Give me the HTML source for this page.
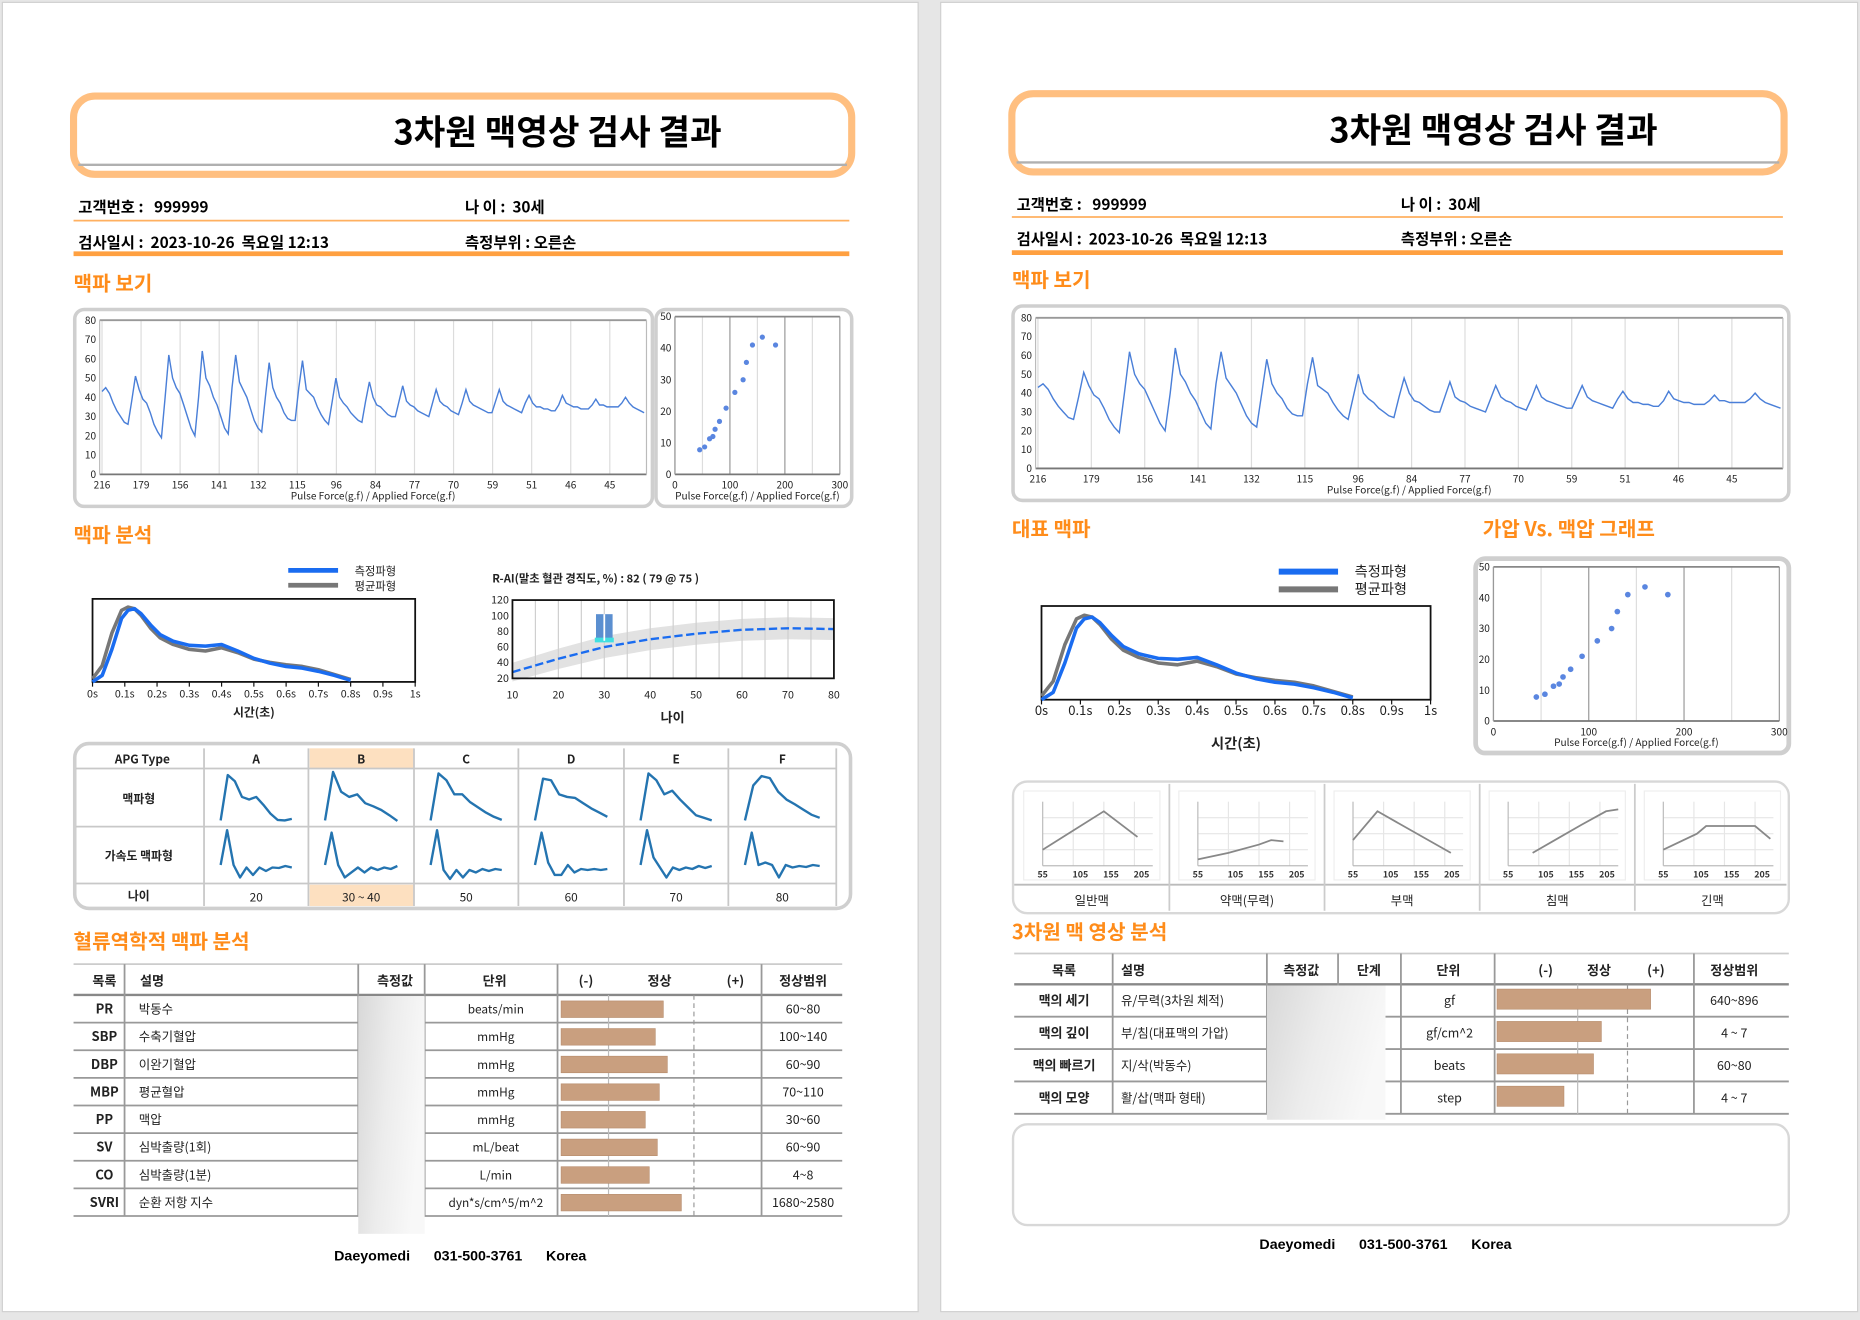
<!DOCTYPE html>
<html><head><meta charset="utf-8">
<style>
html,body{margin:0;padding:0;background:#e6e6e6;}
body{width:1860px;height:1314px;overflow:hidden;}
#wrap{position:absolute;left:0;top:0;width:1568px;height:1108px;transform:scale(1.18622,1.18592);transform-origin:0 0;}
svg text{font-family:"Liberation Sans","Noto Sans CJK KR",sans-serif;}
.k{font-family:"Noto Sans CJK KR","Liberation Sans",sans-serif !important;}
</style></head>
<body>
<div id="wrap">
<svg id="s" width="1568" height="1108" viewBox="0 0 1568 1108" xmlns="http://www.w3.org/2000/svg">
<rect x="2" y="2" width="772" height="1104" fill="#fff" stroke="#d0d0d0"/>
<rect x="793" y="2" width="773" height="1104" fill="#fff" stroke="#d0d0d0"/>

<g>
<rect x="62" y="81" width="656" height="66" rx="18" fill="#fff" stroke="#ffbf80" stroke-width="6"/>
<line x1="66" y1="139" x2="714" y2="139" stroke="#b0b0b0" stroke-width="2"/>
<text x="470" y="122" text-anchor="middle" font-size="29" font-weight="bold" class="k">3차원 맥영상 검사 결과</text>
</g>
<g class="k" font-size="13" font-weight="bold">
<text x="66" y="179" class="k">고객번호 :&#160;&#160; 999999</text>
<text x="392" y="179" class="k">나 이 :&#160; 30세</text>
<line x1="62" y1="186" x2="716" y2="186" stroke="#ffb060" stroke-width="1.5"/>
<text x="66" y="209" class="k">검사일시 :&#160; 2023-10-26&#160; 목요일 12:13</text>
<text x="392" y="209" class="k">측정부위 : 오른손</text>
<line x1="62" y1="214" x2="716" y2="214" stroke="#ffa040" stroke-width="4"/>
</g>
<text x="62" y="245" font-size="17" font-weight="bold" fill="#ff8c1a" class="k">맥파 보기</text>
<rect x="63" y="261" width="487" height="166" rx="8" fill="#fff" stroke="#cfcfcf" stroke-width="3"/>
<rect x="553" y="261" width="165" height="166" rx="8" fill="#fff" stroke="#cfcfcf" stroke-width="3"/>
<g id="L_stream"></g>
<g id="L_scatter"></g>

<text x="62" y="457" font-size="17" font-weight="bold" fill="#ff8c1a" class="k">맥파 분석</text>
<g id="L_wave"></g>
<g id="L_rai"></g>

<g id="apg">
<rect x="63" y="627" width="654" height="139" rx="12" fill="#fff" stroke="#cfcfcf" stroke-width="3"/>
<rect x="261" y="631" width="88" height="17" fill="#fde0c0"/>
<rect x="261" y="746" width="88" height="18" fill="#fde0c0"/>
</g>

<text x="62" y="800" font-size="17" font-weight="bold" fill="#ff8c1a" class="k">혈류역학적 맥파 분석</text>
<g id="L_table"></g>
<text x="388" y="1063" text-anchor="middle" font-size="12" font-weight="bold" xml:space="preserve">Daeyomedi      031-500-3761      Korea</text>

<g>
<rect x="853" y="79" width="651" height="66" rx="18" fill="#fff" stroke="#ffbf80" stroke-width="6"/>
<line x1="857" y1="137" x2="1500" y2="137" stroke="#b0b0b0" stroke-width="2"/>
<text x="1259" y="120" text-anchor="middle" font-size="29" font-weight="bold" class="k">3차원 맥영상 검사 결과</text>
</g>
<g font-size="13" font-weight="bold">
<text x="857" y="177" class="k">고객번호 :&#160;&#160; 999999</text>
<text x="1181" y="177" class="k">나 이 :&#160; 30세</text>
<line x1="853" y1="183" x2="1503" y2="183" stroke="#ffb060" stroke-width="1.5"/>
<text x="857" y="206" class="k">검사일시 :&#160; 2023-10-26&#160; 목요일 12:13</text>
<text x="1181" y="206" class="k">측정부위 : 오른손</text>
<line x1="853" y1="213" x2="1503" y2="213" stroke="#ffa040" stroke-width="4"/>
</g>
<text x="853" y="242" font-size="17" font-weight="bold" fill="#ff8c1a" class="k">맥파 보기</text>
<rect x="854" y="258" width="654" height="164" rx="8" fill="#fff" stroke="#cfcfcf" stroke-width="3"/>
<g id="R_stream"></g>

<text x="853" y="452" font-size="17" font-weight="bold" fill="#ff8c1a" class="k">대표 맥파</text>
<text x="1250" y="452" font-size="17" font-weight="bold" fill="#ff8c1a" class="k">가압 Vs. 맥압 그래프</text>
<g id="R_wave"></g>
<rect x="1244" y="471" width="264" height="164" rx="8" fill="#fff" stroke="#cfcfcf" stroke-width="4"/>
<g id="R_scatter"></g>

<g id="ptype">
<rect x="854" y="659" width="654" height="111" rx="12" fill="#fff" stroke="#d8d8d8" stroke-width="2"/>
<line x1="855" y1="746" x2="1506" y2="746" stroke="#bbb" stroke-width="1.5"/>
</g>

<text x="853" y="792" font-size="17" font-weight="bold" fill="#ff8c1a" class="k">3차원 맥 영상 분석</text>
<g id="R_table"></g>
<rect x="854" y="948" width="654" height="85" rx="12" fill="#fff" stroke="#d8d8d8" stroke-width="2"/>
<text x="1168" y="1053" text-anchor="middle" font-size="12" font-weight="bold" xml:space="preserve">Daeyomedi      031-500-3761      Korea</text>
</svg>
</div>
<script>
const pulseValues=[43,45,42,37,33,30,27,26,38,51,44,39,37,32,26,22,19,40,62,50,45,42,36,30,24,20,40,64,50,46,40,36,30,24,21,45,62,48,44,40,34,28,24,22,40,58,45,40,37,32,29,28,28,45,59,44,42,40,35,31,28,26,38,50,40,37,35,32,30,28,27,38,48,40,36,35,33,31,30,30,38,46,38,36,35,33,32,31,30,37,44,38,36,35,33,32,31,37,44,38,36,35,34,33,32,32,38,44,38,36,35,34,33,32,37,41,37,35,35,34,34,33,33,36,41,37,36,35,35,34,34,34,36,39,36,36,35,35,35,35,37,40,37,35,34,33,32];
const pulseXLabels=['216','179','156','141','132','115','96','84','77','70','59','51','46','45'];
const pulseYTicks=[0,10,20,30,40,50,60,70,80];
const scatterX=[45,54,63,69,73,81,93,109,124,130,141,159,183];
const scatterY=[7.8,8.7,11.3,12,14.3,16.8,21,26,30,35.5,41,43.5,41];
const scatterXTicks=[0,100,200,300];
const scatterYTicks=[0,10,20,30,40,50];
const waveT=[0,0.03,0.06,0.09,0.11,0.13,0.15,0.18,0.21,0.25,0.3,0.35,0.4,0.45,0.5,0.55,0.6,0.65,0.7,0.75,0.8];
const waveMeasured=[0,0.08,0.4,0.78,0.88,0.9,0.84,0.7,0.58,0.5,0.45,0.44,0.46,0.38,0.29,0.23,0.19,0.17,0.13,0.08,0.02];
const waveAverage=[0.04,0.2,0.6,0.88,0.92,0.9,0.82,0.66,0.54,0.46,0.4,0.38,0.42,0.36,0.28,0.24,0.21,0.19,0.15,0.09,0.03];
const waveXTicks=['0s','0.1s','0.2s','0.3s','0.4s','0.5s','0.6s','0.7s','0.8s','0.9s','1s'];
const raiAges=[10,20,30,40,50,60,70,80];
const raiMean=[28,45,60,70,77,82,84,83];
const raiBand=[12,13,14,14,14,14,14,14];
const raiYTicks=[20,40,60,80,100,120];
const raiPatientAge=30, raiPatientValue=82;
const apgTypes=['A','B','C','D','E','F'];
const apgAges=['20','30 ~ 40','50','60','70','80'];
const apgPulse=[[0.05,0.92,0.8,0.5,0.45,0.5,0.35,0.18,0.06,0.05,0.08],[0.05,0.98,0.6,0.5,0.55,0.38,0.32,0.25,0.15,0.04],[0.05,0.95,0.82,0.55,0.55,0.4,0.3,0.2,0.12,0.06],[0.05,0.85,0.82,0.55,0.5,0.48,0.38,0.28,0.2,0.12],[0.05,0.95,0.82,0.55,0.62,0.45,0.3,0.15,0.1,0.05],[0.05,0.72,0.9,0.86,0.6,0.45,0.36,0.26,0.16,0.1]];
const apgAccel=[[0.3,1,0.3,0.05,0.25,0.1,0.25,0.18,0.25,0.24,0.28,0.25],[0.3,0.95,0.3,0.05,0.15,0.25,0.15,0.25,0.2,0.25,0.22,0.28],[0.3,1,0.2,0.02,0.2,0.05,0.2,0.15,0.22,0.18,0.22,0.2],[0.3,0.95,0.35,0.1,0.1,0.3,0.15,0.22,0.2,0.22,0.2,0.22],[0.3,1,0.45,0.25,0.05,0.25,0.2,0.25,0.22,0.28,0.24,0.28],[0.3,0.95,0.3,0.35,0.3,0.05,0.3,0.25,0.28,0.26,0.3,0.28]];
const tableCodes=['PR','SBP','DBP','MBP','PP','SV','CO','SVRI'];
const tableDesc=['박동수','수축기혈압','이완기혈압','평균혈압','맥압','심박출량(1회)','심박출량(1분)','순환 저항 지수'];
const tableUnits=['beats/min','mmHg','mmHg','mmHg','mmHg','mL/beat','L/min','dyn*s/cm^5/m^2'];
const tableRanges=['60~80','100~140','60~90','70~110','30~60','60~90','4~8','1680~2580'];
const tableBars=[51,47,53,49,42,48,44,60];
const typeNames=['일반맥','약맥(무력)','부맥','침맥','긴맥'];
const typeX=[[0,1,2,3.1],[0,1,2,2.4,2.8],[0,0.8,3.2],[0.8,1.6,2.4,3.2,3.6],[0,1.1,1.4,2.2,3.0,3.5]];
const typeY=[[0.25,0.55,0.85,0.45],[0.1,0.2,0.33,0.4,0.38],[0.4,0.85,0.2],[0.2,0.42,0.64,0.85,0.88],[0.25,0.5,0.62,0.62,0.62,0.42]];
const typeXTicks=['55','105','155','205'];
const dimNames=['맥의 세기','맥의 깊이','맥의 빠르기','맥의 모양'];
const dimDesc=['유/무력(3차원 체적)','부/침(대표맥의 가압)','지/삭(박동수)','활/삽(맥파 형태)'];
const dimUnits=['gf','gf/cm^2','beats','step'];
const dimRanges=['640~896','4 ~ 7','60~80','4 ~ 7'];
const dimBars=[78,53,49,34];

const NS='http://www.w3.org/2000/svg';
function el(tag,parent){const e=document.createElementNS(NS,tag);parent.appendChild(e);return e;}
function txt(parent,x,y,s,size,anchor,weight,fill){const t=el('text',parent);t.setAttribute('x',x);t.setAttribute('y',y);t.setAttribute('font-size',size);t.setAttribute('text-anchor',anchor||'start');if(weight)t.setAttribute('font-weight',weight);t.setAttribute('fill',fill||'#222');t.setAttribute('class','k');t.textContent=s;return t;}
function line(parent,x1,y1,x2,y2,stroke,w,dash){const l=el('line',parent);l.setAttribute('x1',x1);l.setAttribute('y1',y1);l.setAttribute('x2',x2);l.setAttribute('y2',y2);l.setAttribute('stroke',stroke);l.setAttribute('stroke-width',w||1);if(dash)l.setAttribute('stroke-dasharray',dash);return l;}

function drawStream(g,x0,x1,y0,y1,fs){
  const sx=i=>x0+2+i*(x1-x0-4)/(pulseValues.length-1);
  const sy=v=>y0-(v/80)*(y0-y1);
  const step=(x1-x0)/pulseXLabels.length;
  pulseXLabels.forEach((lb,i)=>{const x=x0+2+i*step;
    const gl=line(g,x,y1,x,y0,'#dcdcdc',1);
    
    
    const t=txt(g,x,y0+12,lb,fs,'middle');
    
    });
  pulseYTicks.forEach(v=>{const t=txt(g,x0-3,sy(v)+3,String(v),fs,'end');
    
    });
  line(g,x0,y1,x1,y1,'#999',1.5);line(g,x0,y0,x1,y0,'#777',1.5);line(g,x1,y1,x1,y0,'#bbb',1);line(g,x0,y1,x0,y0,'#bbb',1);
  const p=el('polyline',g);
  
  
  p.setAttribute('points',pulseValues.map((v,i)=>sx(i).toFixed(1)+','+sy(v).toFixed(1)).join(' '));
  p.setAttribute('fill','none');p.setAttribute('stroke','#4a7fd8');p.setAttribute('stroke-width','1.2');
  const at=txt(g,(x0+x1)/2,y0+21,'Pulse Force(g.f) / Applied Force(g.f)',fs,'middle');
  
  
}
drawStream(document.getElementById('L_stream'),84,545,400,270,8.5);
drawStream(document.getElementById('R_stream'),873,1503,395,268,8.5);

function drawScatter(g,x0,x1,y0,y1,fs,r){
  const sx=v=>x0+v/300*(x1-x0), sy=v=>y0-v/50*(y0-y1);
  scatterXTicks.forEach(v=>{const x=sx(v);line(g,x,y1,x,y0,v%100===0?'#999':'#ddd',1);
    const t=txt(g,x,y0+12,String(v),fs,'middle');
    
    });
  [50,150,250].forEach(v=>line(g,sx(v),y1,sx(v),y0,'#ddd',1));
  scatterYTicks.forEach(v=>{const t=txt(g,x0-3,sy(v)+3,String(v),fs,'end');
    
    });
  line(g,x0,y1,x1,y1,'#888',1.5);line(g,x0,y0,x1,y0,'#777',1.5);line(g,x0,y1,x0,y0,'#999',1);
  scatterX.forEach((v,i)=>{const c=el('circle',g);
    
    
    c.setAttribute('cx',sx(v));c.setAttribute('cy',sy(scatterY[i]));c.setAttribute('r',r);c.setAttribute('fill','#5a86e0');});
  const t=txt(g,(x0+x1)/2,y0+21,'Pulse Force(g.f) / Applied Force(g.f)',fs,'middle');
  
  
}
drawScatter(document.getElementById('L_scatter'),569,708,400,267,8.5,2.2);
drawScatter(document.getElementById('R_scatter'),1259,1500,608,478,8.5,2.4);

function drawWave(g,x0,x1,y0,y1,fs,legX,legY,lw,titleY,legFs){
  const sx=t=>x0+t*(x1-x0), sy=v=>y0-v*(y0-y1)*0.98;
  const lg1=line(g,legX,legY,legX+lw,legY,'#1a6cf0',lw>45?5:4);
  
  
  const lg2=line(g,legX,legY+legFs+3,legX+lw,legY+legFs+3,'#777',lw>45?5:4);
  
  
  const t1=txt(g,legX+lw+14,legY+4,'측정파형',legFs,'start');
  
  
  const t2=txt(g,legX+lw+14,legY+legFs+7,'평균파형',legFs,'start');
  
  
  const r=el('rect',g);r.setAttribute('x',x0);r.setAttribute('y',y1);r.setAttribute('width',x1-x0);r.setAttribute('height',y0-y1);r.setAttribute('fill','#fff');r.setAttribute('stroke','#111');r.setAttribute('stroke-width','1.5');
  waveXTicks.forEach((lb,i)=>{const x=sx(i/10);line(g,x,y0,x,y0+4,'#111',1);
    const t=txt(g,x,y0+13,lb,fs,'middle');
    
    });
  const pa=el('polyline',g);
  
  
  pa.setAttribute('points',waveT.map((t,i)=>sx(t)+','+sy(waveAverage[i])).join(' '));
  pa.setAttribute('fill','none');pa.setAttribute('stroke','#777');pa.setAttribute('stroke-width','3');pa.setAttribute('stroke-linejoin','round');
  const pm=el('polyline',g);
  
  
  pm.setAttribute('points',waveT.map((t,i)=>sx(t)+','+sy(waveMeasured[i])).join(' '));
  pm.setAttribute('fill','none');pm.setAttribute('stroke','#1a6cf0');pm.setAttribute('stroke-width','3');pm.setAttribute('stroke-linejoin','round');
  const tt=txt(g,(x0+x1)/2,titleY,'시간(초)',fs+1,'middle','bold');
  
  
}
drawWave(document.getElementById('L_wave'),78,350,575,505,9,243,481,42,604,9.5);
drawWave(document.getElementById('R_wave'),878,1206,590,511,11,1078,482,50,631,12);

(function(){
  const g=document.getElementById('L_rai');
  const x0=432,x1=703,y0=572,y1=506;
  const sx=a=>x0+(a-10)/70*(x1-x0), sy=v=>y0-(v-20)/100*(y0-y1);
  const t=txt(g,415,491,'R-AI(말초 혈관 경직도, %) : 82  ( 79 @ 75 )',9.5,'start','bold');
  
  
  const band=el('polygon',g);
  
  
  const up=raiAges.map((a,i)=>sx(a)+','+sy(raiMean[i]+raiBand[i]));
  const dn=raiAges.map((a,i)=>sx(a)+','+sy(raiMean[i]-raiBand[i])).reverse();
  band.setAttribute('points',up.concat(dn).join(' '));band.setAttribute('fill','#e2e2e2');
  for(let a=15;a<80;a+=5){line(g,sx(a),y1,sx(a),y0,'#cfcfcf',1);}
  const ml=el('polyline',g);
  
  
  ml.setAttribute('points',raiAges.map((a,i)=>sx(a)+','+sy(raiMean[i])).join(' '));
  ml.setAttribute('fill','none');ml.setAttribute('stroke','#1a6cf0');ml.setAttribute('stroke-width','2');ml.setAttribute('stroke-dasharray','7 3');
  const fr=el('rect',g);fr.setAttribute('x',x0);fr.setAttribute('y',y1);fr.setAttribute('width',x1-x0);fr.setAttribute('height',y0-y1);fr.setAttribute('fill','none');fr.setAttribute('stroke','#111');fr.setAttribute('stroke-width','1.5');
  const mk=el('rect',g);
  
  
  mk.setAttribute('x',sx(raiPatientAge)-7);mk.setAttribute('y',sy(raiPatientValue+20));mk.setAttribute('width',14);mk.setAttribute('height',sy(raiPatientValue-14)-sy(raiPatientValue+20));mk.setAttribute('fill','#5b8fd0');
  const mk2=el('rect',g);mk2.setAttribute('x',sx(raiPatientAge)-8);mk2.setAttribute('y',sy(raiPatientValue-10));mk2.setAttribute('width',16);mk2.setAttribute('height',4);mk2.setAttribute('fill','#40e0e0');
  line(g,sx(raiPatientAge),sy(raiPatientValue+20),sx(raiPatientAge),sy(raiPatientValue-14),'#fff',1.5);
  raiYTicks.forEach(v=>{const tk=txt(g,x0-3,sy(v)+3,String(v),9,'end');
    
    });
  raiAges.forEach(a=>{const tk=txt(g,sx(a),y0+17,String(a),9,'middle');
    
    });
  const at=txt(g,567,609,'나이',11,'middle','bold');
  
  
})();

(function(){
  const g=document.getElementById('apg');
  const cols=[172,260,349,437,526,614,705];
  const rows=[648,697,745];
  rows.forEach(y=>line(g,64,y,705,y,'#c8c8c8',1.5));
  cols.forEach(x=>line(g,x,631,x,764,'#c8c8c8',1.5));
  const h=txt(g,120,644,'APG Type',10,'middle','bold');
  const r1=txt(g,117,677,'맥파형',10,'middle','bold');
  const r2=txt(g,117,725,'가속도 맥파형',10,'middle','bold');
  const r3=txt(g,117,759,'나이',10,'middle','bold');
  apgTypes.forEach((tp,i)=>{
    const cx=(cols[i]+cols[i+1])/2, w=cols[i+1]-cols[i];
    const ht=txt(g,cx,644,tp,10,'middle','bold');
    
    
    const at=txt(g,cx,760,apgAges[i],10,'middle');
    
    
    const px0=cols[i]+14, pw=w-28;
    const pp=el('polyline',g);
    
    
    const ap=apgPulse[i];
    pp.setAttribute('points',ap.map((v,k)=>(px0+k*pw/(ap.length-1))+','+(694-v*44)).join(' '));
    pp.setAttribute('fill','none');pp.setAttribute('stroke','#2474b0');pp.setAttribute('stroke-width','2');pp.setAttribute('stroke-linejoin','round');
    const pa=el('polyline',g);
    
    
    const ac=apgAccel[i];
    pa.setAttribute('points',ac.map((v,k)=>(px0+k*pw/(ac.length-1))+','+(742-v*42)).join(' '));
    pa.setAttribute('fill','none');pa.setAttribute('stroke','#2474b0');pa.setAttribute('stroke-width','2');pa.setAttribute('stroke-linejoin','round');
  });
})();

function drawTable(g,opt){
  const {x0,x1,hy0,hy1,rowH,cols,heads,headX,n}=opt;
  line(g,x0,hy0,x1,hy0,'#ccc',1.5);
  heads.forEach((h,i)=>{const t=txt(g,headX[i],hy1-8,h,11,'middle','bold');
    
    });
  line(g,x0,hy1,x1,hy1,'#888',2);
  for(let r=1;r<=n;r++){line(g,x0,hy1+r*rowH,x1,hy1+r*rowH,'#999',1.5);}
  cols.forEach(x=>line(g,x,hy0,x,hy1+n*rowH,'#999',1.5));
  const gr=el('rect',g);
  
  
  gr.setAttribute('x',opt.maskX);gr.setAttribute('y',hy1+1);gr.setAttribute('width',opt.maskW);gr.setAttribute('height',n*rowH+opt.maskExtra);gr.setAttribute('fill','url(#mask'+opt.id+')');
  const defs=el('defs',g);const lgd=el('linearGradient',defs);lgd.setAttribute('id','mask'+opt.id);lgd.setAttribute('x1','0');lgd.setAttribute('x2','1');lgd.setAttribute('y1','0');lgd.setAttribute('y2','0.3');
  [['0','#d8d8d8'],['0.5','#ececec'],['1','#f8f8f8']].forEach(s=>{const st=el('stop',lgd);st.setAttribute('offset',s[0]);st.setAttribute('stop-color',s[1]);});
  line(g,opt.solidX,hy1,opt.solidX,hy1+n*rowH,'#bbb',1);
  line(g,opt.dashX,hy1,opt.dashX,hy1+n*rowH,'#999',1,'4 3');
}
(function(){
  const g=document.getElementById('L_table');
  const rowH=23.3, hy1=839;
  drawTable(g,{id:'L',x0:62,x1:710,hy0:813,hy1:hy1,rowH:rowH,cols:[105,302,358,470,642],heads:['목록','설명','측정값','단위','(-)','정상','(+)','정상범위'],headX:[88,128,333,417,494,556,620,677],n:8,maskX:302,maskW:56,maskExtra:14,solidX:513,dashX:585});
  g.querySelectorAll('text')[1].setAttribute('x','118');g.querySelectorAll('text')[1].setAttribute('text-anchor','start');
  tableCodes.forEach((c,i)=>{const y=hy1+i*rowH+rowH/2+4;
    const a=txt(g,88,y,c,11,'middle','bold');
    const b=txt(g,117,y,tableDesc[i],10.5,'start');
    const u=txt(g,418,y,tableUnits[i],10,'middle');
    const rg=txt(g,677,y,tableRanges[i],10.5,'middle');
    const bar=el('rect',g);
    
    
    bar.setAttribute('x',473);bar.setAttribute('y',hy1+i*rowH+5);bar.setAttribute('width',tableBars[i]/100*169);bar.setAttribute('height',14);bar.setAttribute('fill','#c99f7f');bar.setAttribute('stroke','#b58a6a');bar.setAttribute('stroke-width','0.5');
  });
})();
(function(){
  const g=document.getElementById('R_table');
  const rowH=27.3, hy1=830;
  drawTable(g,{id:'R',x0:855,x1:1508,hy0:804,hy1:hy1,rowH:rowH,cols:[938,1068,1128,1181,1260,1428],heads:['목록','설명','측정값','단계','단위','(-)','정상','(+)','정상범위'],headX:[897,958,1097,1154,1221,1303,1348,1396,1462],n:4,maskX:1068,maskW:100,maskExtra:4,solidX:1330,dashX:1372});
  g.querySelectorAll('text')[1].setAttribute('x','945');g.querySelectorAll('text')[1].setAttribute('text-anchor','start');
  dimNames.forEach((c,i)=>{const y=hy1+i*rowH+rowH/2+4;
    const a=txt(g,897,y,c,11,'middle','bold');
    const b=txt(g,945,y,dimDesc[i],10.5,'start');
    const u=txt(g,1222,y,dimUnits[i],10.5,'middle');
    const rg=txt(g,1462,y,dimRanges[i],10.5,'middle');
    const bar=el('rect',g);
    
    
    bar.setAttribute('x',1262);bar.setAttribute('y',hy1+i*rowH+4);bar.setAttribute('width',dimBars[i]/100*166);bar.setAttribute('height',17);bar.setAttribute('fill','#c99f7f');bar.setAttribute('stroke','#b58a6a');bar.setAttribute('stroke-width','0.5');
  });
})();

(function(){
  const g=document.getElementById('ptype');
  const cw=130.8;
  typeNames.forEach((nm,i)=>{
    const cx0=855+i*cw;
    if(i>0)line(g,cx0,661,cx0,768,'#ccc',1.5);
    const t=txt(g,cx0+cw/2,763,nm,10.5,'middle');
    
    
    const ax0=cx0+24, ax1=cx0+cw-14, ay0=730, ay1=676;
    const fr=el('rect',g);fr.setAttribute('x',cx0+8);fr.setAttribute('y',667);fr.setAttribute('width',cw-16);fr.setAttribute('height',75);fr.setAttribute('fill','none');fr.setAttribute('stroke','#eee');
    for(let k=1;k<4;k++){line(g,ax0+k*(ax1-ax0)/3.6,ay1,ax0+k*(ax1-ax0)/3.6,ay0,'#e6e6e6',1);line(g,ax0,ay0-k*(ay0-ay1)/4,ax1,ay0-k*(ay0-ay1)/4,'#e6e6e6',1);}
    line(g,ax0,ay1,ax0,ay0,'#bbb',1);line(g,ax0,ay0,ax1,ay0,'#bbb',1);
    typeXTicks.forEach((lb,k)=>{const tk=txt(g,ax0+k*(ax1-ax0)/3.6+(k?6:0),ay0+10,lb,7.5,'middle','bold','#333');
      
      });
    const pl=el('polyline',g);
    
    
    pl.setAttribute('points',typeX[i].map((v,k)=>(ax0+v*(ax1-ax0)/3.6)+','+(ay0-typeY[i][k]*(ay0-ay1))).join(' '));
    pl.setAttribute('fill','none');pl.setAttribute('stroke','#888');pl.setAttribute('stroke-width','1.5');
  });
})();
</script>
</body></html>
